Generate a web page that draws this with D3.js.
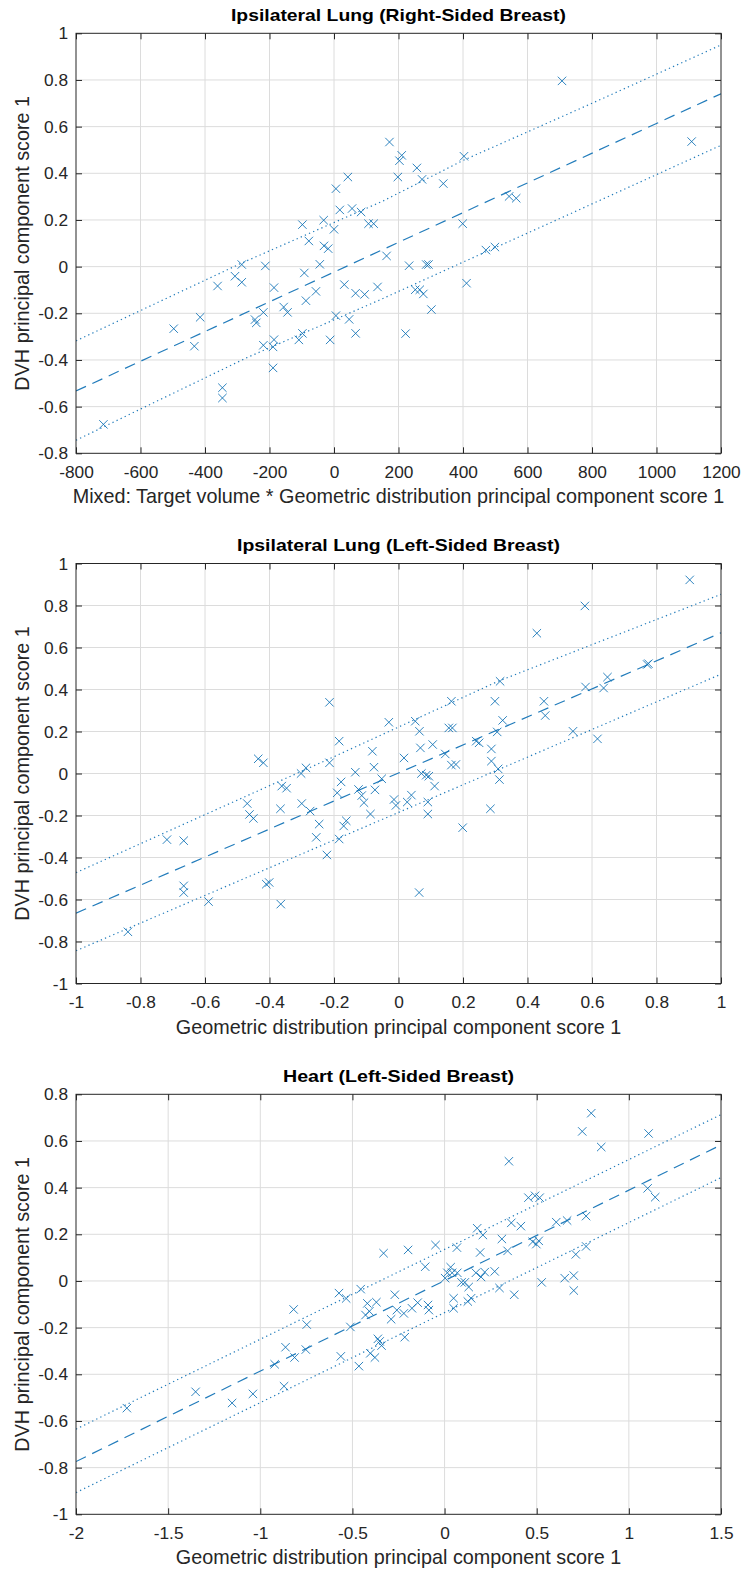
<!DOCTYPE html>
<html>
<head>
<meta charset="utf-8">
<script src="https://cdn.jsdelivr.net/npm/d3@7"></script>
<style>
  html, body { margin: 0; padding: 0; background: #fff; }
  svg { display: block; font-family: "Liberation Sans", Arial, Helvetica, sans-serif; }
  .tick text { fill: #262626; }
  .tick line { stroke: #262626; }
  .grid line { stroke: #dcdcdc; stroke-width: 1; }
</style>
</head>
<body>
<svg id="chart" width="743" height="1571"></svg>
<script>
// ---- Ipsilateral lung, right-sided breast ----
const rightLungX = [-715,-497,-433,-415,-361,-346,-346,-307,-286,-286,-245,-241,-219,-213,-219,-186,-186,-189,-189,-156,
  -144,-109,-98,-98,-92,-87,-78,-56,-44,-32,-31,-18,-12,0,6,6,18,32,43,47,56,67,67,84,95,107,123,135,163,172,
  198,203,210,222,233,252,257,266,273,277,286,293,302,339,399,403,411,471,499,543,565,707,1109];
const rightLungY = [-0.676,-0.266,-0.341,-0.217,-0.083,-0.519,-0.563,-0.041,0.009,-0.067,-0.227,-0.241,-0.337,0.003,-0.196,-0.09,-0.313,-0.344,-0.434,-0.173,
  -0.196,-0.314,-0.286,0.18,-0.027,-0.146,0.11,-0.106,0.01,0.199,0.089,0.077,-0.314,0.16,0.334,-0.21,0.243,-0.077,0.384,-0.226,0.249,-0.114,-0.286,0.234,-0.119,0.184,0.184,-0.087,0.046,0.534,
  0.384,0.454,0.477,-0.287,0.004,-0.099,0.423,-0.099,0.374,-0.117,0.009,0.009,-0.184,0.356,0.184,0.473,-0.071,0.071,0.084,0.301,0.293,0.796,0.536];
const rightLungFit = [[-800,-0.533],[1200,0.741]];
const rightLungUpper = [[-800,-0.318],[-290,0.013],[150,0.28],[400,0.455],[800,0.70],[1200,0.95]];
const rightLungLower = [[-800,-0.744],[-270,-0.39],[140,-0.144],[390,0.013],[700,0.206],[1200,0.52]];

// ---- Ipsilateral lung, left-sided breast ----
const leftLungX = [-0.839,-0.718,-0.666,-0.666,-0.666,-0.589,-0.469,-0.462,-0.45,-0.435,-0.419,-0.41,-0.401,-0.366,-0.365,-0.362,-0.347,-0.302,-0.3,-0.287,
  -0.274,-0.255,-0.246,-0.222,-0.214,-0.214,-0.19,-0.184,-0.184,-0.178,-0.17,-0.162,-0.134,-0.124,-0.114,-0.107,-0.087,-0.081,-0.076,-0.073,
  -0.052,-0.03,-0.014,-0.008,0.017,0.027,0.04,0.052,0.064,0.065,0.068,0.071,0.086,0.091,0.091,0.094,0.106,0.112,0.145,0.156,
  0.164,0.167,0.164,0.178,0.199,0.241,0.25,0.285,0.288,0.288,0.299,0.306,0.309,0.313,0.315,0.323,0.429,0.451,0.455,0.541,
  0.578,0.58,0.617,0.636,0.648,0.771,0.775,0.903];
const leftLungY = [-0.754,-0.315,-0.32,-0.535,-0.567,-0.61,-0.143,-0.195,-0.214,0.07,0.051,-0.527,-0.519,-0.168,-0.622,-0.06,-0.07,0.0,-0.143,0.027,
  -0.179,-0.304,-0.241,-0.388,0.339,0.051,-0.092,-0.312,0.154,-0.04,-0.25,-0.225,0.006,-0.076,-0.105,-0.139,-0.193,0.106,0.03,-0.078,
  -0.025,0.244,-0.124,-0.152,0.074,-0.136,-0.103,0.249,-0.567,0.201,0.122,0.0,-0.008,-0.136,-0.193,-0.013,0.138,-0.06,0.093,0.217,
  0.344,0.217,0.04,0.043,-0.258,0.154,0.146,-0.168,0.117,0.059,0.344,0.198,0.022,-0.029,0.439,0.253,0.668,0.344,0.276,0.201,
  0.798,0.412,0.165,0.407,0.459,0.519,0.523,0.922];
const leftLungFit = [[-1,-0.665],[1,0.67]];
const leftLungUpper = [[-1,-0.472],[-0.2,0.08],[0.31,0.44],[1,0.853]];
const leftLungLower = [[-1,-0.844],[1,0.473]];

// ---- Heart, left-sided breast ----
const heartX = [-1.724,-1.351,-1.153,-1.04,-0.922,-0.871,-0.863,-0.819,-0.814,-0.753,-0.748,-0.573,-0.563,-0.534,-0.511,-0.465,-0.455,-0.429,-0.419,-0.408,
  -0.403,-0.378,-0.37,-0.362,-0.352,-0.342,-0.331,-0.29,-0.27,-0.259,-0.221,-0.216,-0.198,-0.177,-0.146,-0.105,-0.09,-0.085,-0.049,0.003,
  0.015,0.033,0.041,0.049,0.049,0.067,0.069,0.092,0.11,0.126,0.131,0.144,0.17,0.177,0.193,0.198,0.208,0.218,0.272,0.298,
  0.311,0.342,0.349,0.362,0.378,0.414,0.455,0.478,0.491,0.498,0.511,0.516,0.527,0.606,0.652,0.665,0.701,0.701,0.712,0.747,
  0.768,0.768,0.796,0.85,1.102,1.107,1.143];
const heartY = [-0.545,-0.475,-0.523,-0.484,-0.357,-0.451,-0.284,-0.122,-0.328,-0.294,-0.187,-0.052,-0.323,-0.075,-0.197,-0.365,-0.035,-0.146,-0.096,-0.13,
  -0.31,-0.328,-0.091,-0.248,-0.259,-0.277,0.119,-0.164,-0.059,-0.125,-0.139,-0.241,0.133,-0.117,-0.093,0.061,-0.103,-0.125,0.154,0.012,
  0.035,0.059,0.035,-0.074,-0.117,0.143,0.035,-0.006,-0.006,-0.088,-0.026,-0.074,0.035,0.226,0.122,0.017,0.197,0.038,0.041,-0.03,
  0.18,0.129,0.513,0.249,-0.059,0.235,0.357,0.168,0.365,0.158,0.172,0.357,-0.006,0.252,0.012,0.259,0.023,-0.041,0.114,0.641,
  0.278,0.148,0.719,0.574,0.397,0.632,0.359];
const heartFit = [[-2,-0.774],[1.5,0.583]];
const heartUpper = [[-2,-0.635],[1.5,0.713]];
const heartLower = [[-2,-0.907],[1.5,0.443]];

// ---- axis ticks ----
const ticksX1 = [-800,-600,-400,-200,0,200,400,600,800,1000,1200];
const ticksY1 = [-0.8,-0.6,-0.4,-0.2,0,0.2,0.4,0.6,0.8,1];
const ticksX2 = [-1,-0.8,-0.6,-0.4,-0.2,0,0.2,0.4,0.6,0.8,1];
const ticksY2 = [-1,-0.8,-0.6,-0.4,-0.2,0,0.2,0.4,0.6,0.8,1];
const ticksX3 = [-2,-1.5,-1,-0.5,0,0.5,1,1.5];
const ticksY3 = [-1,-0.8,-0.6,-0.4,-0.2,0,0.2,0.4,0.6,0.8];

const titles = ["Ipsilateral Lung (Right-Sided Breast)", "Ipsilateral Lung (Left-Sided Breast)", "Heart (Left-Sided Breast)"];
const xLabels = ["Mixed: Target volume * Geometric distribution principal component score 1",
  "Geometric distribution principal component score 1",
  "Geometric distribution principal component score 1"];
const yLabel = "DVH principal component score 1";

const panels = [
  { title: titles[0], xlabel: xLabels[0], xs: rightLungX, ys: rightLungY, fit: rightLungFit, upper: rightLungUpper, lower: rightLungLower,
    xDom: [-800, 1200], yDom: [-0.8, 1], xt: ticksX1, yt: ticksY1, top: 33.3, titleW: 335 },
  { title: titles[1], xlabel: xLabels[1], xs: leftLungX, ys: leftLungY, fit: leftLungFit, upper: leftLungUpper, lower: leftLungLower,
    xDom: [-1, 1], yDom: [-1, 1], xt: ticksX2, yt: ticksY2, top: 563.5, titleW: 323 },
  { title: titles[2], xlabel: xLabels[2], xs: heartX, ys: heartY, fit: heartFit, upper: heartUpper, lower: heartLower,
    xDom: [-2, 1.5], yDom: [-1, 0.8], xt: ticksX3, yt: ticksY3, top: 1094.3, titleW: 231 }
];

const svg = d3.select("#chart");
const left = 76, width = 645, height = 420;
const blue = "#0a6eb4";
const fmt = d => String(+d.toFixed(2)).replace("\u2212", "-");

panels.forEach((p, i) => {
  const g = svg.append("g").attr("transform", `translate(${left},${p.top})`);
  const x = d3.scaleLinear().domain(p.xDom).range([0, width]);
  const y = d3.scaleLinear().domain(p.yDom).range([height, 0]);

  g.append("rect").attr("width", width).attr("height", height).attr("fill", "#fff");

  // grid
  const grid = g.append("g").attr("class", "grid");
  grid.selectAll(".gx").data(p.xt.slice(1, -1)).join("line")
    .attr("x1", d => x(d)).attr("x2", d => x(d)).attr("y1", 0).attr("y2", height);
  grid.selectAll(".gy").data(p.yt.slice(1, -1)).join("line")
    .attr("y1", d => y(d)).attr("y2", d => y(d)).attr("x1", 0).attr("x2", width);

  // axes with inward ticks on all sides
  const ax = (axis, tr, labels) => {
    const a = g.append("g").attr("transform", tr).call(axis);
    a.select(".domain").remove();
    if (!labels) a.selectAll("text").remove();
    return a;
  };
  ax(d3.axisBottom(x).tickValues(p.xt).tickSize(-6).tickPadding(12.5).tickFormat(fmt), `translate(0,${height})`, true);
  ax(d3.axisLeft(y).tickValues(p.yt).tickSize(-6).tickPadding(8).tickFormat(fmt), "translate(0,0)", true);
  ax(d3.axisTop(x).tickValues(p.xt).tickSize(-6), "translate(0,0)", false);
  ax(d3.axisRight(y).tickValues(p.yt).tickSize(-6), `translate(${width},0)`, false);
  g.selectAll(".tick text").attr("font-size", "17.3px").attr("font-family", "Liberation Sans, Arial, sans-serif");

  // clip for lines
  const cid = "clip" + i;
  g.append("clipPath").attr("id", cid).append("rect").attr("width", width).attr("height", height);
  const lines = g.append("g").attr("clip-path", `url(#${cid})`);
  const line = d3.line().x(d => x(d[0])).y(d => y(d[1]));

  // data markers
  const pts = p.xs.map((v, k) => [v, p.ys[k]]);
  lines.selectAll("path.pt").data(pts).join("path")
    .attr("class", "pt")
    .attr("d", "M-4.2,-4.2L4.2,4.2M-4.2,4.2L4.2,-4.2")
    .attr("transform", d => `translate(${x(d[0])},${y(d[1])})`)
    .attr("stroke", blue).attr("stroke-opacity", 0.85).attr("stroke-width", 1).attr("fill", "none");

  lines.append("path").datum(p.fit).attr("d", line)
    .attr("fill", "none").attr("stroke", blue).attr("stroke-opacity", 0.9).attr("stroke-width", 1.2).attr("stroke-dasharray", "11,7");
  [p.upper, p.lower].forEach(b => {
    lines.append("path").datum(b).attr("d", line)
      .attr("fill", "none").attr("stroke", blue).attr("stroke-opacity", 0.9).attr("stroke-width", 1.2).attr("stroke-dasharray", "1.3,3.2");
  });

  // frame
  g.append("rect").attr("width", width).attr("height", height)
    .attr("fill", "none").attr("stroke", "#262626").attr("stroke-width", 1);

  // title
  g.append("text").attr("x", width / 2).attr("y", -12.5).attr("text-anchor", "middle")
    .attr("font-size", "17px").attr("font-weight", "bold").attr("fill", "#000")
    .attr("textLength", p.titleW).attr("lengthAdjust", "spacingAndGlyphs")
    .text(p.title);

  // x label
  g.append("text").attr("x", width / 2).attr("y", height + 50).attr("text-anchor", "middle")
    .attr("font-size", "19.8px").attr("fill", "#262626").text(p.xlabel);

  // y label
  g.append("text").attr("transform", `translate(${29 - left},${height / 2}) rotate(-90)`)
    .attr("text-anchor", "middle").attr("font-size", "19.8px").attr("fill", "#262626").text(yLabel);
});
</script>
</body>
</html>
